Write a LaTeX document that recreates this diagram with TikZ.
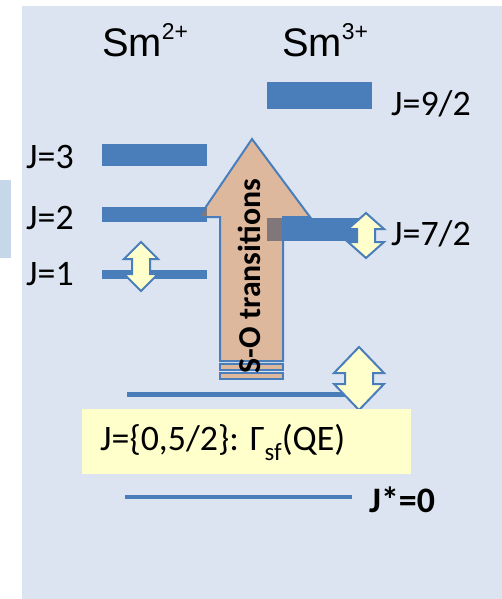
\documentclass[tikz,border=0pt]{standalone}
\usepackage{fontspec}
\setmainfont{Carlito}
\newfontfamily\arialfont{Liberation Sans}
\definecolor{panelblue}{HTML}{DBE4F0}
\definecolor{sidebox}{HTML}{C6D7EA}
\definecolor{levelblue}{HTML}{4A7EBB}
\definecolor{paleyellow}{HTML}{FFFFCC}
\definecolor{soorange}{HTML}{E46C0A}

\begin{document}
\begin{tikzpicture}[x=1bp,y=-1bp]
            % Define styles
            \tikzset{
              level/.style={fill=levelblue},
              jlabel/.style={anchor=base west, inner sep=0pt, font=\fontsize{36}{40}\selectfont},
              ionlabel/.style={anchor=base west, inner sep=0pt, font=\arialfont\fontsize{40}{44}\selectfont},
              dblarrow/.style={fill=paleyellow, draw=levelblue, line width=2bp, line join=miter},
              soarrow/.style={fill=soorange, fill opacity=0.36, draw=levelblue, line width=2bp, line join=miter}
            }
            \useasboundingbox (0,0) rectangle (502,599);

            % Background
            \fill[panelblue] (22,6) rectangle (502,599);
            \fill[sidebox] (0,180) rectangle (11,258);

            % Define nodes
            \node[ionlabel] (sm2) at (102,57) {Sm\raisebox{17bp}{\fontsize{23}{23}\selectfont 2+}};
            \node[ionlabel] (sm3) at (282,57) {Sm\raisebox{17bp}{\fontsize{23}{23}\selectfont 3+}};

            \node[jlabel] (j3) at (26,169) {J=3};
            \node[jlabel] (j2) at (26,229) {J=2};
            \node[jlabel] (j1) at (26,285) {J=1};
            \node[jlabel] (j92) at (391,116) {J=9/2};
            \node[jlabel] (j72) at (391,245) {J=7/2};
            \node[jlabel, font=\bfseries\fontsize{36}{40}\selectfont] (j0) at (369,512) {J*=0};

            % Draw levels
            \fill[level] (102,144) rectangle (207,166);
            \fill[level] (102,207) rectangle (207,222);
            \fill[level] (102,270) rectangle (207,279);
            \fill[level] (267,82) rectangle (372,109);
            \fill[level] (267,218) rectangle (360,241);
            \fill[level] (127,392) rectangle (347,397);
            \fill[level] (125,495) rectangle (352,499);

            % S-O arrow
            \filldraw[soarrow] (252,139) -- (310,217) -- (283,217) -- (283,361)
              -- (220,361) -- (220,217) -- (199,217) -- cycle;
            \filldraw[soarrow] (220,364) rectangle (283,370);
            \filldraw[soarrow] (220,373) rectangle (283,379);
            \node[rotate=90, inner sep=0pt, font=\bfseries\fontsize{32}{34}\selectfont] (so) at (249,276) {S-O transitions};

            % Double arrows
            \filldraw[dblarrow] (141,242) -- (158,259) -- (150,259) -- (150,274) -- (158,274) -- (141,291)
              -- (124,274) -- (132,274) -- (132,259) -- (124,259) -- cycle;
            \filldraw[dblarrow] (366,213) -- (384,229) -- (375,229) -- (375,242) -- (384,242) -- (366,258)
              -- (348,242) -- (357,242) -- (357,229) -- (348,229) -- cycle;
            \filldraw[dblarrow] (359,347) -- (384,373) -- (373,373) -- (373,384) -- (384,384) -- (359,410)
              -- (334,384) -- (345,384) -- (345,373) -- (334,373) -- cycle;

            % Quasi-elastic box
            \fill[paleyellow] (82,409) rectangle (411,474);
            \node[jlabel] (qe) at (100,450) {J=\{0,5/2\}: Γ\raisebox{-10bp}{\fontsize{25}{25}\selectfont sf}(QE)};

        \end{tikzpicture}
\end{document}
